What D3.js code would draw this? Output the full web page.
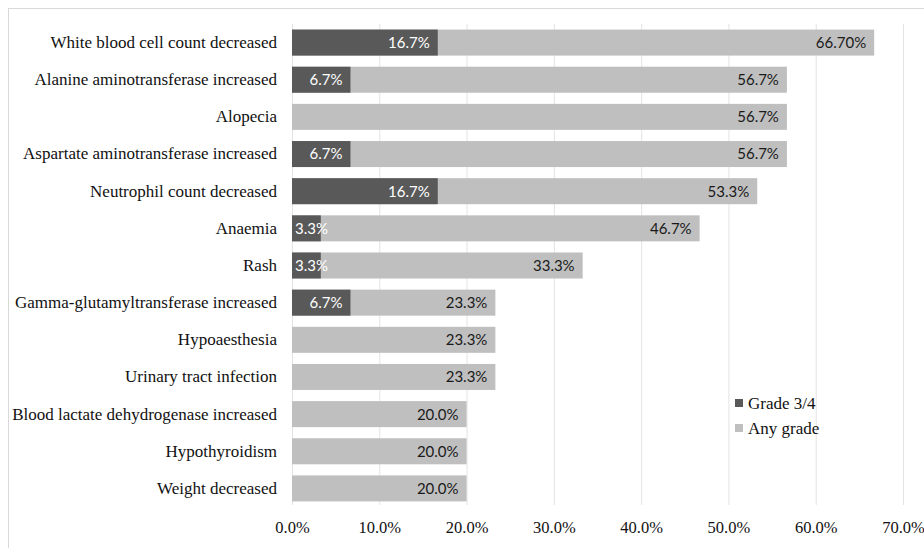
<!DOCTYPE html>
<html>
<head>
<meta charset="utf-8">
<script src="https://cdn.jsdelivr.net/npm/d3@7"></script>
<style>
  body { margin: 0; background: #fff; }
  svg { display: block; }
</style>
</head>
<body>
<div id="chart"></div>
<script>
// adverse events, top to bottom as in the figure
const events = [
    "White blood cell count decreased",
    "Alanine aminotransferase increased",
    "Alopecia",
    "Aspartate aminotransferase increased",
    "Neutrophil count decreased",
    "Anaemia",
    "Rash",
    "Gamma-glutamyltransferase increased",
    "Hypoaesthesia",
    "Urinary tract infection",
    "Blood lactate dehydrogenase increased",
    "Hypothyroidism",
    "Weight decreased"
];
const anyGrade = [66.7, 56.7, 56.7, 56.7, 53.3, 46.7, 33.3, 23.3, 23.3, 23.3, 20.0, 20.0, 20.0];
const grade34 = [16.7, 6.7, null, 6.7, 16.7, 3.3, 3.3, 6.7, null, null, null, null, null];
const anyLabels = ["66.70%", "56.7%", "56.7%", "56.7%", "53.3%", "46.7%", "33.3%", "23.3%", "23.3%", "23.3%", "20.0%", "20.0%", "20.0%"];
const xTicks = [0, 10, 20, 30, 40, 50, 60, 70];
const seriesNames = ["Grade 3/4", "Any grade"];

const W = 924, H = 548;
const margin = {top: 24, right: 21, bottom: 41, left: 292};
const width = W - margin.left - margin.right,
    height = H - margin.top - margin.bottom;

const darkCol = "#595959", lightCol = "#bfbfbf";
// the renderer only takes a single family name
const serif = "Liberation Serif";
const sans = "Lato";

const svg = d3.select("#chart")
    .append("svg")
    .attr("width", W)
    .attr("height", H);

// chart frame (runs off the right/bottom edge like the original crop)
svg.append("rect")
    .attr("x", 8.5).attr("y", 8.5)
    .attr("width", W + 20).attr("height", H + 20)
    .attr("fill", "none")
    .attr("stroke", "#d9d9d9");

const g = svg.append("g")
    .attr("transform", "translate(" + margin.left + "," + margin.top + ")");

const x = d3.scaleLinear().domain([0, 70]).range([0, width]);
const y = d3.scaleBand().domain(events).range([0, height]).paddingInner(0.3).paddingOuter(0.15);

// gridlines
g.selectAll(".grid")
    .data(xTicks)
    .enter()
    .append("line")
    .attr("x1", d => x(d) + 0.5)
    .attr("x2", d => x(d) + 0.5)
    .attr("y1", 0)
    .attr("y2", height - 2)
    .style("stroke", "#e3e3e3");

// x axis labels
const xAxis = d3.axisBottom(x)
    .tickValues(xTicks)
    .tickSize(0)
    .tickPadding(14)
    .tickFormat(d => d.toFixed(1) + "%");
g.append("g")
    .attr("transform", "translate(0," + height + ")")
    .call(xAxis)
    .call(a => a.select(".domain").remove())
    .selectAll("text")
    .style("font-family", serif)
    .style("font-size", "16.5px")
    .style("fill", "#111");

// y axis labels
const yAxis = d3.axisLeft(y).tickSize(0).tickPadding(15);
g.append("g")
    .call(yAxis)
    .call(a => a.select(".domain").remove())
    .selectAll("text")
    .style("font-family", serif)
    .style("font-size", "17px")
    .style("fill", "#111");

const rows = events.map((e, i) => ({name: e, any: anyGrade[i], g34: grade34[i], lab: anyLabels[i]}));

// any grade bars (behind)
g.selectAll(".any")
    .data(rows)
    .enter()
    .append("rect")
    .attr("x", x(0))
    .attr("y", d => y(d.name))
    .attr("width", d => x(d.any) - x(0))
    .attr("height", y.bandwidth())
    .style("fill", lightCol);

// grade 3/4 bars (overlapping, in front)
const sev = rows.filter(d => d.g34 != null);
g.selectAll(".g34")
    .data(sev)
    .enter()
    .append("rect")
    .attr("x", x(0))
    .attr("y", d => y(d.name))
    .attr("width", d => x(d.g34) - x(0))
    .attr("height", y.bandwidth())
    .style("fill", darkCol);

// labels - inside end
g.selectAll(".anyLab")
    .data(rows)
    .enter()
    .append("text")
    .attr("x", d => x(d.any) - 8)
    .attr("y", d => y(d.name) + y.bandwidth() / 2)
    .attr("dy", "0.36em")
    .attr("text-anchor", "end")
    .style("font-family", sans)
    .style("font-size", "15px")
    .style("fill", "#1a1a1a")
    .text(d => d.lab);

g.selectAll(".g34Lab")
    .data(sev)
    .enter()
    .append("text")
    .attr("x", d => d.g34 < 5 ? x(0) + 3 : x(d.g34) - 8)
    .attr("y", d => y(d.name) + y.bandwidth() / 2)
    .attr("dy", "0.36em")
    .attr("text-anchor", d => d.g34 < 5 ? "start" : "end")
    .style("font-family", sans)
    .style("font-size", "15px")
    .style("fill", "#fff")
    .text(d => d.g34.toFixed(1) + "%");

// legend
const legend = svg.append("g")
    .attr("transform", "translate(735,399)");
legend.selectAll("rect")
    .data(seriesNames)
    .enter()
    .append("rect")
    .attr("x", 0)
    .attr("y", (d, i) => i * 25)
    .attr("width", 8)
    .attr("height", 8)
    .style("fill", (d, i) => i == 0 ? darkCol : lightCol);
legend.selectAll("text")
    .data(seriesNames)
    .enter()
    .append("text")
    .attr("x", 13)
    .attr("y", (d, i) => i * 25 + 9.5)
    .style("font-family", serif)
    .style("font-size", "17px")
    .style("fill", "#111")
    .text(d => d);
</script>
</body>
</html>
